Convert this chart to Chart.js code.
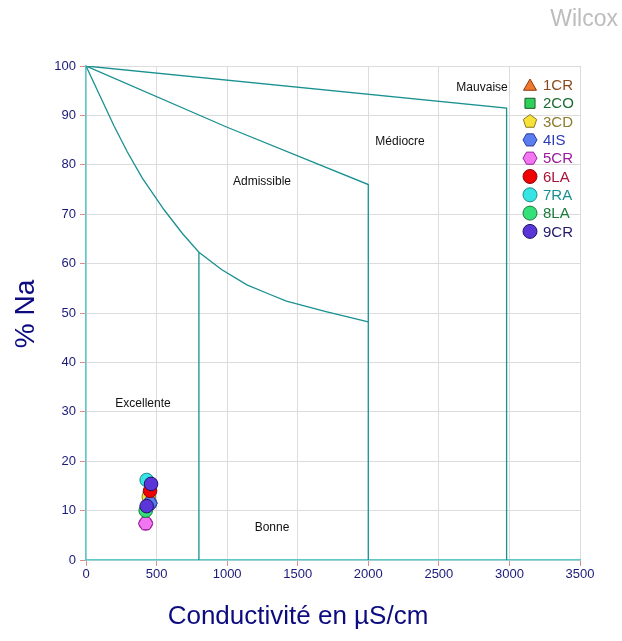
<!DOCTYPE html>
<html><head><meta charset="utf-8">
<script src="https://cdn.jsdelivr.net/npm/chart.js@4.4.0/dist/chart.umd.min.js"></script>
<style>html,body{margin:0;padding:0;background:#fff}#wrap{width:622px;height:641px}</style>
</head><body><div id="wrap"><canvas id="c" width="622" height="641"></canvas></div>
<script>
// ---- data ----
const seriesNames = ["1CR","2CO","3CD","4IS","5CR","6LA","7RA","8LA","9CR"];
const conductivity = [[445],[440],[445],[454],[423],[454],[430],[423],[430,461]];
const percentNa   = [[12.5],[13],[12.8],[11.5],[7.4],[14.0],[16.2],[10.0],[10.9,15.4]];
const xTicks = [0,500,1000,1500,2000,2500,3000,3500];
const yTicks = [0,10,20,30,40,50,60,70,80,90,100];
// class boundaries (conductivity, %Na)
const limitMauvaiseX = [0,2980,2980];
const limitMauvaiseY = [100,91.5,0];
const limitMediocreX = [0,1000,2000,2000];
const limitMediocreY = [100,87.6,76,0];
const limitAdmissibleX = [0,198,293,399,553,683,800,960,1140,1300,1420,1700,2000];
const limitAdmissibleY = [100,87.9,82.6,77.3,70.9,66.1,62.3,58.8,55.7,53.8,52.4,50.3,48.2];
const limitBonneX = [800,800];
const limitBonneY = [62.3,0];
const zoneNames = ["Mauvaise","Médiocre","Admissible","Excellente","Bonne"];
const zoneX = [2806,2225,1247,404,1318];
const zoneY = [95.7,84.6,76.5,31.6,6.5];

// ---- styles ----
const styles = [
  {shape:'triangle', fill:'#f0772e', border:'#8a3a10', text:'#8b4a1c'},
  {shape:'rect', fill:'#2fd05a', border:'#1a5a2a', text:'#1d6b30'},
  {shape:'pentagon', fill:'#f6e23a', border:'#8a7a20', text:'#8c7c2a'},
  {shape:'hexagon', fill:'#5a7ef0', border:'#2a3a9a', text:'#2a3ab8'},
  {shape:'hexagon', fill:'#f276f2', border:'#9a209a', text:'#9a1a9a'},
  {shape:'circle', fill:'#f00000', border:'#8a0a1a', text:'#a8143a'},
  {shape:'circle', fill:'#36e4e4', border:'#1a8a8a', text:'#1a9090'},
  {shape:'circle', fill:'#33e07a', border:'#1a7a3a', text:'#1a7a3a'},
  {shape:'circle', fill:'#5a36d8', border:'#1e1460', text:'#22186a'}
];
const LINE = '#1a9090';
const FONT = '"Liberation Sans", Arial, sans-serif';

function pts(xs, ys){ return xs.map((x,i)=>({x:x, y:ys[i]})); }

function polyPath(ctx, shape, cx, cy, r){
  ctx.beginPath();
  if (shape==='circle'){ ctx.arc(cx,cy,r,0,Math.PI*2); }
  else if (shape==='rect'){ const s=r*0.72; ctx.rect(cx-s,cy-s,2*s,2*s); }
  else {
    const n = shape==='triangle'?3:shape==='pentagon'?5:6;
    const start = shape==='hexagon'?0:-Math.PI/2;
    const off = shape==='triangle'?r*0.2:0;
    for(let k=0;k<n;k++){ const a=start+k*2*Math.PI/n; const px=cx+r*Math.cos(a), py=cy+r*Math.sin(a)+off; k?ctx.lineTo(px,py):ctx.moveTo(px,py); }
    ctx.closePath();
  }
}

const lineDs = (xs,ys)=>({type:'scatter', data:pts(xs,ys), showLine:true, borderColor:LINE, borderWidth:1.3, pointRadius:0, pointHoverRadius:0, fill:false, tension:0, order:100});

const datasets = [
  lineDs(limitMauvaiseX, limitMauvaiseY),
  lineDs(limitMediocreX, limitMediocreY),
  lineDs(limitAdmissibleX, limitAdmissibleY),
  lineDs(limitBonneX, limitBonneY)
];
seriesNames.forEach((n,i)=>{
  datasets.push({type:'scatter', label:n, data:pts(conductivity[i], percentNa[i]),
    pointStyle: styles[i].shape==='hexagon'?'circle':styles[i].shape,
    backgroundColor:styles[i].fill, borderColor:styles[i].border, borderWidth:1,
    pointRadius:6.8, order:seriesNames.length-i, _style:styles[i]});
});

const decor = {
  id:'decor',
  afterDraw(chart){
    const ctx = chart.ctx, xs = chart.scales.x, ys = chart.scales.y;
    ctx.save();
    ctx.font = '12px ' + FONT;
    ctx.fillStyle = '#111'; ctx.textAlign='center'; ctx.textBaseline='middle';
    zoneNames.forEach((z,i)=>ctx.fillText(z, xs.getPixelForValue(zoneX[i]), ys.getPixelForValue(zoneY[i])));
    // legend
    const lx = 530, tx = 543, y0 = 85, dy = 18.3;
    seriesNames.forEach((n,i)=>{
      const st = styles[i], y = y0 + i*dy;
      polyPath(ctx, st.shape, lx, y, st.shape==='triangle'?7.5:7);
      ctx.fillStyle = st.fill; ctx.fill();
      ctx.lineWidth = 1; ctx.strokeStyle = st.border; ctx.stroke();
      ctx.font = '15px ' + FONT;
      ctx.textAlign='left'; ctx.textBaseline='middle'; ctx.fillStyle = st.text;
      ctx.fillText(n, tx, y+1);
    });
    ctx.font = '23px ' + FONT;
    ctx.fillStyle = '#bdbdbd'; ctx.textAlign='right'; ctx.textBaseline='middle';
    ctx.fillText('Wilcox', 618, 20);
    ctx.fillStyle = '#0c0c80';
    ctx.font = '26px ' + FONT;
    ctx.textAlign='center'; ctx.textBaseline='middle';
    ctx.fillText('Conductivité en µS/cm', 298, 617);
    ctx.font = '28px ' + FONT;
    ctx.translate(26, 314); ctx.rotate(-Math.PI/2);
    ctx.fillText('% Na', 0, 0);
    ctx.restore();
  }
};

const hexPlugin = {
  id:'hex',
  afterDatasetDraw(chart, args){
    const ds = chart.data.datasets[args.index];
    if (!ds._style || ds._style.shape!=='hexagon') return;
    const ctx = chart.ctx; const meta = args.meta;
    ctx.save();
    meta.data.forEach(p=>{
      polyPath(ctx,'hexagon',p.x,p.y,7.2);
      ctx.fillStyle = ds._style.fill; ctx.fill();
      ctx.lineWidth=1; ctx.strokeStyle=ds._style.border; ctx.stroke();
    });
    ctx.restore();
  }
};

new Chart(document.getElementById('c'), {
  type:'scatter',
  data:{datasets},
  options:{
    responsive:false, animation:false, devicePixelRatio:1,
    layout:{padding:{top:66, right:42, left:0, bottom:0}},
    plugins:{legend:{display:false}, tooltip:{enabled:false}, title:{display:false}},
    scales:{
      x:{type:'linear', min:0, max:3500,
        afterBuildTicks(s){ s.ticks = xTicks.map(v=>({value:v})); },
        afterFit(s){ s.height = 81; },
        grid:{color:'#dcdcdc', lineWidth:1, tickColor:'#e08a8a', tickLength:6, drawTicks:true},
        border:{color:'#5cc8c8', width:1.5},
        ticks:{color:'#1a1a7a', font:{size:13, family:FONT}, padding:1, maxRotation:0, callback:(v)=>String(v)}
      },
      y:{type:'linear', min:0, max:100,
        afterBuildTicks(s){ s.ticks = yTicks.map(v=>({value:v})); },
        afterFit(s){ s.width = 86; },
        grid:{color:'#dcdcdc', lineWidth:1, tickColor:'#e08a8a', tickLength:6, drawTicks:true},
        border:{color:'#5cc8c8', width:1.5},
        ticks:{color:'#1a1a7a', font:{size:13, family:FONT}, padding:4, callback:(v)=>String(v)}
      }
    }
  },
  plugins:[hexPlugin, decor]
});
</script></body></html>
